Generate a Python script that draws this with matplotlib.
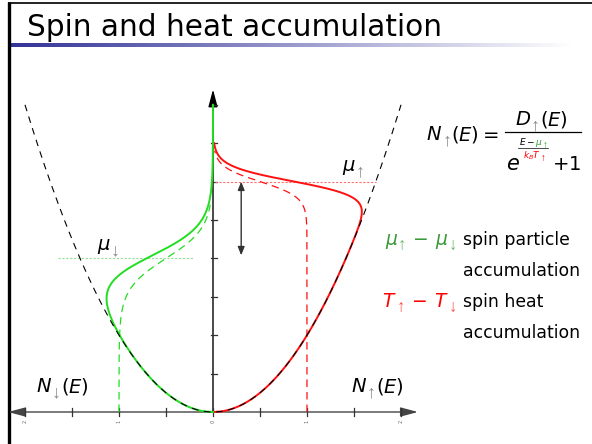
import numpy as np
import matplotlib
matplotlib.use('Agg')
import matplotlib.pyplot as plt
from matplotlib.colors import LinearSegmentedColormap

plt.rcParams['font.family'] = ['DejaVu Sans']
plt.rcParams['mathtext.fontset'] = 'dejavusans'

# model parameters
mu_up = 3.0
mu_down = 2.0
kT_up = 0.10
kT_down = 0.20
e_max_up = [3.5, 3.4]      # solid, dashed
e_max_down = [4.0, 2.7]
dos_range = [-2.0, 2.0]
x_ticks = [-2, -1.5, -1, -0.5, 0, 0.5, 1, 1.5, 2]
x_ticklabels = ['2', '1', '0', '1', '2']
y_ticks = [0.5, 1, 1.5, 2, 2.5, 3, 3.5, 4]

green = '#22dd22'
red = '#ff1010'
txt_green = '#3a9a3a'
sub_gray = '#8a8a8a'

# pixel mapping of the data axes
X0, XS, Y0, YS = 213.0, 94.0, 412.0, 76.8
W, H = 592, 444


def fermi(e, mu, kt):
    return 1.0 / (np.exp((e - mu) / kt) + 1.0)


fig = plt.figure(figsize=(W / 100, H / 100), dpi=100)
renderer = fig.canvas.get_renderer()

# pixel overlay for slide decoration and text
axp = fig.add_axes([0, 0, 1, 1])
axp.set_xlim(0, W)
axp.set_ylim(H, 0)
axp.axis('off')


def rich(x, y, pieces, ha='left'):
    # pieces: (text, fontsize, color, dy, family) laid out on one baseline
    objs = []
    for s, fs, c, dy, fam in pieces:
        t = axp.text(0, y + dy, s, fontsize=fs, color=c, ha='left', va='baseline',
                     family=fam)
        objs.append((t, t.get_window_extent(renderer).width))
    total = sum(w for _, w in objs)
    x0 = x if ha == 'left' else (x - total if ha == 'right' else x - total / 2)
    for t, w in objs:
        t.set_x(x0)
        x0 += w


def arrow_sub(up, fs, c, dy=5):
    return ('\u2191' if up else '\u2193', fs, c, dy, 'Liberation Sans')


def m(s, fs, c='black'):
    return (s, fs, c, 0, 'DejaVu Sans')


# data axes
ax = fig.add_axes([0, 0, 1, 1], facecolor='none')
ax.set_xlim(-X0 / XS, (W - X0) / XS)
ax.set_ylim((Y0 - H) / YS, Y0 / YS)
ax.axis('off')

# slide frame
axp.plot([8, W], [3, 3], color='#222222', lw=1.4, solid_capstyle='butt')
axp.plot([8.5, 8.5], [2.5, H], color='black', lw=2.4, solid_capstyle='butt')
axp.text(27, 36, 'Spin and heat accumulation', fontsize=21.3, color='black',
         ha='left', va='baseline')
cmap = LinearSegmentedColormap.from_list('bar', ['#333399', '#9999cc', 'white'])
grad = np.linspace(0, 1, 300).reshape(1, -1)
axp.imshow(grad, cmap=cmap, extent=[10, 575, 47, 43], aspect='auto', zorder=1)

# axes with arrows
ax.annotate('', xy=(2.18, 0), xytext=(-2.18, 0),
            arrowprops=dict(arrowstyle='<|-|>,head_length=0.75,head_width=0.2',
                            color='#444444', lw=1.0, mutation_scale=14,
                            shrinkA=0, shrinkB=0), zorder=3)
ax.annotate('', xy=(0, 4.2), xytext=(0, 0),
            arrowprops=dict(arrowstyle='-|>,head_length=0.75,head_width=0.2',
                            color='black', lw=1.0, mutation_scale=14,
                            shrinkA=0, shrinkB=0), zorder=3)
for xt in x_ticks:
    ax.plot([xt, xt], [-4 / YS, 4 / YS], color='#333333', lw=0.9, zorder=3)
for yt in y_ticks:
    ax.plot([-2 / XS, 4 / XS], [yt, yt], color='#333333', lw=0.9, zorder=3)
for xt, lab in zip([-2, -1, 0, 1, 2], x_ticklabels):
    ax.text(xt, -9 / YS, lab, fontsize=3.5, rotation=90, color='#666666',
            ha='center', va='center')

# density of states (dashed parabola)
xd = np.linspace(dos_range[0], dos_range[1], 400)
ax.plot(xd, xd ** 2, color='black', lw=0.8, ls=(0, (6, 5)), zorder=5)

# spin up (red)
e = np.linspace(0, e_max_up[0], 500)
ax.plot(np.sqrt(e) * fermi(e, mu_up, kT_up), e, color=red, lw=1.4, zorder=4)
e = np.linspace(0, e_max_up[1], 500)
ax.plot(fermi(e, mu_up, kT_up), e, color=red, lw=0.9, ls=(0, (6, 4)), zorder=4)

# spin down (green)
e = np.linspace(0, e_max_down[0], 500)
ax.plot(-np.sqrt(e) * fermi(e, mu_down, kT_down), e, color=green, lw=1.4, zorder=4)
e = np.linspace(0, e_max_down[1], 500)
ax.plot(-fermi(e, mu_down, kT_down), e, color=green, lw=0.9, ls=(0, (6, 4)), zorder=4)

# chemical potentials
ax.plot([0.02, np.sqrt(mu_up)], [mu_up, mu_up], color='#ff7070', lw=0.8, ls=(0, (2, 1.5)), zorder=3)
ax.plot([-1.65, -0.21], [mu_down, mu_down], color='#90e090', lw=0.8, ls=(0, (2, 1.5)), zorder=3)
rich(342, 171, [m(r'$\mu$', 14), arrow_sub(True, 13, sub_gray)])
rich(97, 250, [m(r'$\mu$', 14), arrow_sub(False, 13, sub_gray)])
ax.annotate('', xy=(0.30, mu_up), xytext=(0.30, mu_down + 0.04),
            arrowprops=dict(arrowstyle='<|-|>,head_length=0.5,head_width=0.2',
                            color='#333333', lw=1.0, mutation_scale=10,
                            shrinkA=0, shrinkB=0), zorder=3)

# N(E) labels
rich(36, 392, [m(r'$N$', 14), arrow_sub(False, 13, sub_gray), m(r'$(E)$', 14)])
rich(351, 392, [m(r'$N$', 14), arrow_sub(True, 13, sub_gray), m(r'$(E)$', 14)])

# formula
rich(499, 140, [m(r'$N$', 14), arrow_sub(True, 13, sub_gray), m(r'$(E)=$', 14)], ha='right')
rich(541, 125, [m(r'$D$', 14), arrow_sub(True, 13, sub_gray), m(r'$(E)$', 14)], ha='center')
axp.plot([505, 581], [132, 132], color='black', lw=0.9)
axp.text(506, 170, r'$e$', fontsize=15, ha='left', va='baseline')
axp.text(581, 170, r'$+1$', fontsize=14, ha='right', va='baseline')
rich(533, 145, [m(r'$E-$', 6.5), m(r'$\mu$', 6.5, txt_green),
                arrow_sub(True, 7, txt_green, 2.5)], ha='center')
axp.plot([518, 548], [148, 148], color='black', lw=0.5)
rich(534, 158, [m(r'$k_BT$', 6.5, 'red'), arrow_sub(True, 7, 'red', 2.5)], ha='center')

# legend text
rich(457, 245, [m(r'$\mu$', 13.5, txt_green), arrow_sub(True, 12, '#6ab86a'),
                m(r'$\,-\,\mu$', 13.5, txt_green), arrow_sub(False, 12, '#6ab86a')],
     ha='right')
axp.text(463, 245, 'spin particle', fontsize=12.4, ha='left', va='baseline')
axp.text(463, 276, 'accumulation', fontsize=12.4, ha='left', va='baseline')
rich(457, 307, [m(r'$T$', 13.5, 'red'), arrow_sub(True, 12, '#ff5050'),
                m(r'$\,-\,T$', 13.5, 'red'), arrow_sub(False, 12, '#ff5050')],
     ha='right')
axp.text(463, 307, 'spin heat', fontsize=12.4, ha='left', va='baseline')
axp.text(463, 338, 'accumulation', fontsize=12.4, ha='left', va='baseline')

fig.savefig('out.png', dpi=100)
